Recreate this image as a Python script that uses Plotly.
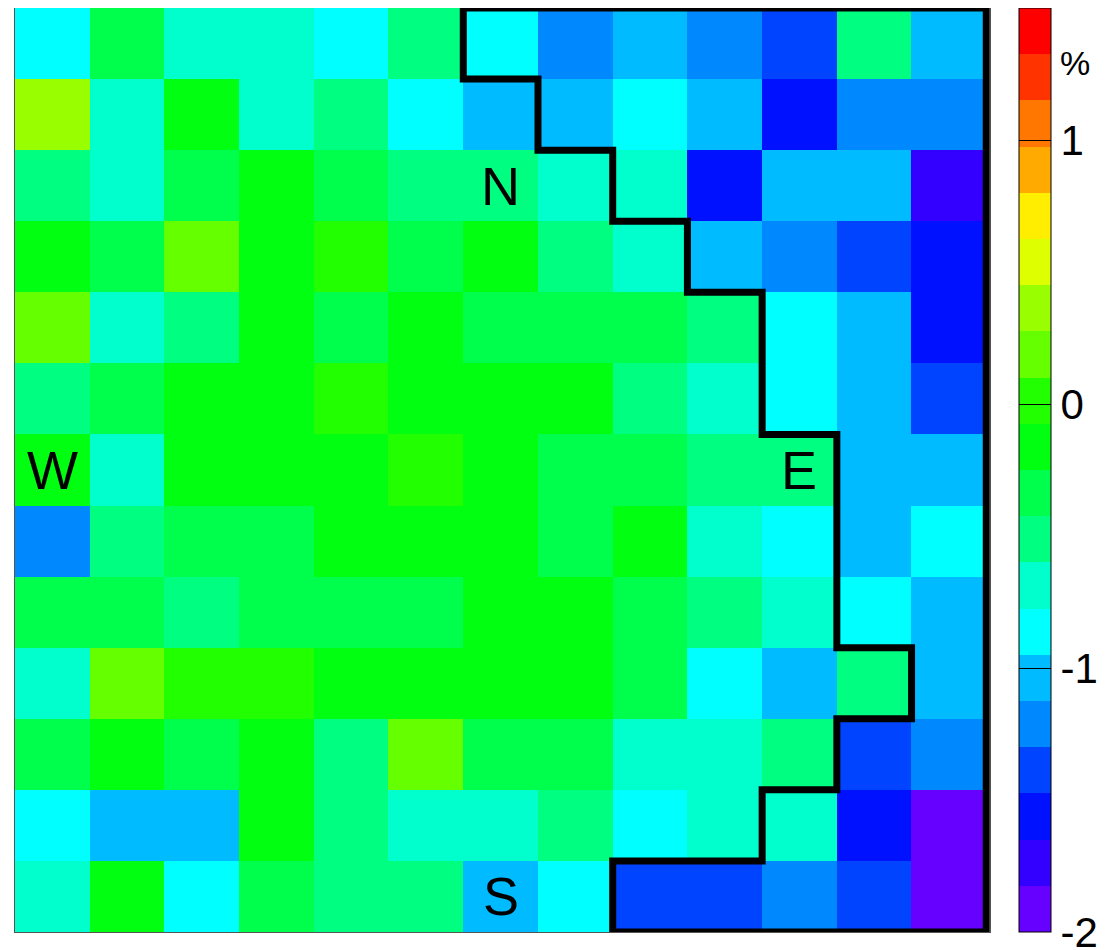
import plotly.graph_objects as go

# ---- data (values in %, rows listed top to bottom) ----
columns = list(range(13))
rows = list(range(13))
values = [
    [-0.86, -0.34, -0.69, -0.69, -0.86, -0.51, -0.86, -1.21, -1.04, -1.21, -1.39, -0.51, -1.04],
    [0.36, -0.69, -0.16, -0.69, -0.51, -0.86, -1.04, -1.04, -0.86, -1.04, -1.56, -1.21, -1.21],
    [-0.51, -0.69, -0.34, -0.16, -0.34, -0.51, -0.51, -0.69, -0.69, -1.56, -1.04, -1.04, -1.74],
    [-0.16, -0.34, 0.19, -0.16, 0.01, -0.34, -0.16, -0.51, -0.69, -1.04, -1.21, -1.39, -1.56],
    [0.19, -0.69, -0.51, -0.16, -0.34, -0.16, -0.34, -0.34, -0.34, -0.51, -0.86, -1.04, -1.56],
    [-0.51, -0.34, -0.16, -0.16, 0.01, -0.16, -0.16, -0.16, -0.51, -0.69, -0.86, -1.04, -1.39],
    [-0.16, -0.69, -0.16, -0.16, -0.16, 0.01, -0.16, -0.34, -0.34, -0.51, -0.51, -1.04, -1.04],
    [-1.21, -0.51, -0.34, -0.34, -0.16, -0.16, -0.16, -0.34, -0.16, -0.69, -0.86, -1.04, -0.86],
    [-0.34, -0.34, -0.51, -0.34, -0.34, -0.34, -0.16, -0.16, -0.34, -0.51, -0.69, -0.86, -1.04],
    [-0.69, 0.19, 0.01, 0.01, -0.16, -0.16, -0.16, -0.16, -0.34, -0.86, -1.04, -0.51, -1.04],
    [-0.34, -0.16, -0.34, -0.16, -0.51, 0.19, -0.34, -0.34, -0.69, -0.69, -0.51, -1.39, -1.21],
    [-0.86, -1.04, -1.04, -0.16, -0.51, -0.69, -0.69, -0.51, -0.86, -0.69, -0.69, -1.56, -1.91],
    [-0.69, -0.16, -0.86, -0.34, -0.51, -0.51, -1.04, -0.86, -1.39, -1.39, -1.21, -1.39, -1.91],
]

# region boundary, in cell-edge units (column edge, row edge)
boundary_col_edges = [6, 6, 7, 7, 8, 8, 9, 9, 10, 10, 11, 11, 12, 12, 11, 11, 10, 10, 8, 8, 13, 13, 6]
boundary_row_edges = [0, 1, 1, 2, 2, 3, 3, 4, 4, 6, 6, 9, 9, 10, 10, 11, 11, 12, 12, 13, 13, 0, 0]

# direction labels and their cells
label_text = ["N", "E", "S", "W"]
label_col = [6, 10, 6, 0]
label_row = [2, 6, 12, 6]

# colour bar
z_min, z_max = -2.0, 1.5
band_colors = [
    "#6600ff", "#3300ff", "#0011ff", "#0044ff", "#0088ff",
    "#00bbff", "#00ffff", "#00ffcc", "#00ff80", "#00ff4c",
    "#00ff10", "#22ff00", "#66ff00", "#99ff00", "#ddff00",
    "#ffee00", "#ffaa00", "#ff7700", "#ff3300", "#ff0000",
]
tick_vals = [-2, -1, 0, 1]
tick_text = ["-2", "-1", "0", "1"]
unit_label = "%"

# ---- build ----
n = len(band_colors)
colorscale = []
for i, c in enumerate(band_colors):
    colorscale.append([i / n, c])
    colorscale.append([(i + 1) / n, c])

FONT = "Liberation Sans, Arial, Helvetica, sans-serif"

fig = go.Figure()
fig.add_trace(go.Heatmap(
    z=values, x=columns, y=rows,
    zmin=z_min, zmax=z_max,
    colorscale=colorscale,
    hoverinfo="skip",
    colorbar=dict(
        x=1.0297, xanchor="left", xpad=0,
        y=0.5, yanchor="middle", ypad=0, len=1.0, lenmode="fraction",
        thickness=32, thicknessmode="pixels",
        outlinewidth=1, outlinecolor="#000000",
        tickmode="array", tickvals=tick_vals, ticktext=tick_text,
        ticks="inside", ticklen=32, tickwidth=1, tickcolor="#000000",
        ticklabeloverflow="allow",
        tickfont=dict(family=FONT, size=42, color="#000000"),
    ),
))

fig.add_trace(go.Scatter(
    x=[e - 0.5 for e in boundary_col_edges],
    y=[e - 0.5 for e in boundary_row_edges],
    mode="lines",
    line=dict(color="#000000", width=7),
    hoverinfo="skip",
    showlegend=False,
))

for t, c, r in zip(label_text, label_col, label_row):
    fig.add_annotation(x=c, y=r, text=t, showarrow=False,
                       font=dict(family=FONT, size=54, color="#000000"),
                       xanchor="center", yanchor="middle")

fig.add_annotation(xref="paper", yref="paper", x=1.087, y=0.9405, text=unit_label,
                   showarrow=False, font=dict(family=FONT, size=34, color="#000000"),
                   xanchor="center", yanchor="middle")

fig.update_layout(
    width=1108, height=942,
    margin=dict(l=7, r=126, t=0, b=18, autoexpand=False),
    paper_bgcolor="white", plot_bgcolor="white",
    showlegend=False,
    xaxis=dict(range=[-0.5, 12.55], showgrid=False, zeroline=False, showticklabels=False,
               ticks="", showline=True, linecolor="#555555", linewidth=1, mirror=True),
    yaxis=dict(range=[12.5, -0.5], showgrid=False, zeroline=False, showticklabels=False,
               ticks="", showline=True, linecolor="#555555", linewidth=1, mirror=True),
)

fig.write_html("out.html")
